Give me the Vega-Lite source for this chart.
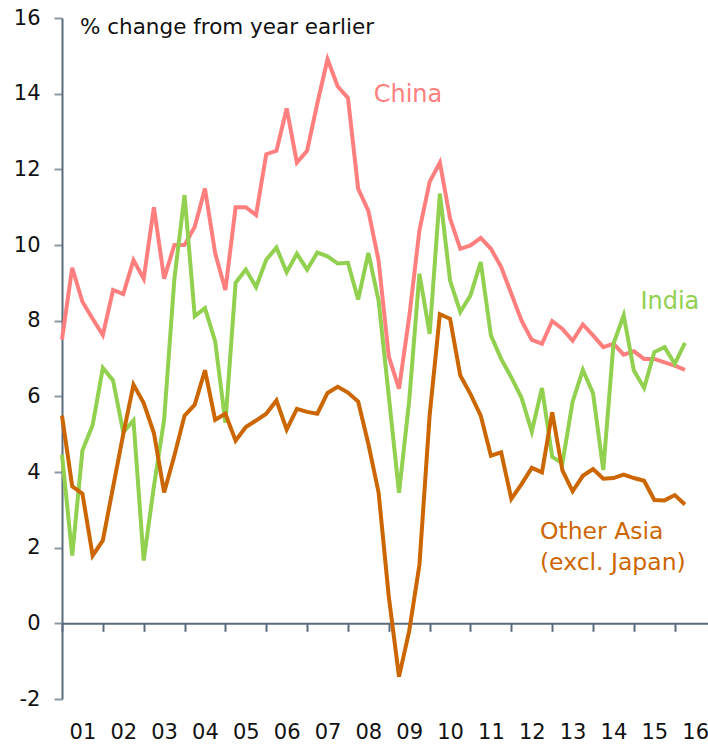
{
  "$schema": "https://vega.github.io/schema/vega-lite/v6.json",
  "autosize": {"type": "none"},
  "width": 646,
  "height": 681,
  "padding": {"left": 62, "top": 18, "right": 0, "bottom": 46},
  "background": "white",
  "config": {"view": {"stroke": null}, "font": "DejaVu Sans", "text": {"font": "DejaVu Sans"}},
  "datasets": {
    "growth": [
      {"t": 2001.0, "China": 7.5, "India": 4.46, "Other Asia": 5.49},
      {"t": 2001.25, "China": 9.4, "India": 1.79, "Other Asia": 3.62},
      {"t": 2001.5, "China": 8.5, "India": 4.57, "Other Asia": 3.43},
      {"t": 2001.75, "China": 8.05, "India": 5.24, "Other Asia": 1.79},
      {"t": 2002.0, "China": 7.62, "India": 6.75, "Other Asia": 2.19},
      {"t": 2002.25, "China": 8.81, "India": 6.42, "Other Asia": 3.6},
      {"t": 2002.5, "China": 8.7, "India": 5.05, "Other Asia": 5.0},
      {"t": 2002.75, "China": 9.6, "India": 5.36, "Other Asia": 6.31},
      {"t": 2003.0, "China": 9.11, "India": 1.66, "Other Asia": 5.82},
      {"t": 2003.25, "China": 11.0, "India": 3.62, "Other Asia": 5.03},
      {"t": 2003.5, "China": 9.11, "India": 5.38, "Other Asia": 3.46},
      {"t": 2003.75, "China": 10.0, "India": 9.09, "Other Asia": 4.43},
      {"t": 2004.0, "China": 10.0, "India": 11.32, "Other Asia": 5.49},
      {"t": 2004.25, "China": 10.48, "India": 8.12, "Other Asia": 5.78},
      {"t": 2004.5, "China": 11.49, "India": 8.33, "Other Asia": 6.69},
      {"t": 2004.75, "China": 9.78, "India": 7.45, "Other Asia": 5.38},
      {"t": 2005.0, "China": 8.81, "India": 5.3, "Other Asia": 5.54},
      {"t": 2005.25, "China": 11.0, "India": 9.0, "Other Asia": 4.83},
      {"t": 2005.5, "China": 11.0, "India": 9.35, "Other Asia": 5.19},
      {"t": 2005.75, "China": 10.79, "India": 8.89, "Other Asia": 5.36},
      {"t": 2006.0, "China": 12.4, "India": 9.61, "Other Asia": 5.54},
      {"t": 2006.25, "China": 12.49, "India": 9.93, "Other Asia": 5.89},
      {"t": 2006.5, "China": 13.61, "India": 9.28, "Other Asia": 5.12},
      {"t": 2006.75, "China": 12.18, "India": 9.77, "Other Asia": 5.67},
      {"t": 2007.0, "China": 12.49, "India": 9.35, "Other Asia": 5.59},
      {"t": 2007.25, "China": 13.74, "India": 9.8, "Other Asia": 5.54},
      {"t": 2007.5, "China": 14.91, "India": 9.7, "Other Asia": 6.09},
      {"t": 2007.75, "China": 14.19, "India": 9.51, "Other Asia": 6.25},
      {"t": 2008.0, "China": 13.89, "India": 9.53, "Other Asia": 6.1},
      {"t": 2008.25, "China": 11.49, "India": 8.56, "Other Asia": 5.86},
      {"t": 2008.5, "China": 10.9, "India": 9.79, "Other Asia": 4.74},
      {"t": 2008.75, "China": 9.59, "India": 8.53, "Other Asia": 3.46},
      {"t": 2009.0, "China": 7.05, "India": 6.0, "Other Asia": 0.7},
      {"t": 2009.25, "China": 6.2, "India": 3.45, "Other Asia": -1.41},
      {"t": 2009.5, "China": 8.1, "India": 5.89, "Other Asia": -0.2},
      {"t": 2009.75, "China": 10.39, "India": 9.24, "Other Asia": 1.55},
      {"t": 2010.0, "China": 11.67, "India": 7.65, "Other Asia": 5.5},
      {"t": 2010.25, "China": 12.18, "India": 11.36, "Other Asia": 8.17},
      {"t": 2010.5, "China": 10.7, "India": 9.06, "Other Asia": 8.05},
      {"t": 2010.75, "China": 9.9, "India": 8.23, "Other Asia": 6.55},
      {"t": 2011.0, "China": 9.99, "India": 8.67, "Other Asia": 6.06},
      {"t": 2011.25, "China": 10.19, "India": 9.55, "Other Asia": 5.49},
      {"t": 2011.5, "China": 9.9, "India": 7.61, "Other Asia": 4.43},
      {"t": 2011.75, "China": 9.42, "India": 6.99, "Other Asia": 4.52},
      {"t": 2012.0, "China": 8.71, "India": 6.5, "Other Asia": 3.29},
      {"t": 2012.25, "China": 8.0, "India": 5.96, "Other Asia": 3.68},
      {"t": 2012.5, "China": 7.49, "India": 5.07, "Other Asia": 4.11},
      {"t": 2012.75, "China": 7.39, "India": 6.22, "Other Asia": 3.99},
      {"t": 2013.0, "China": 7.99, "India": 4.4, "Other Asia": 5.58},
      {"t": 2013.25, "China": 7.78, "India": 4.23, "Other Asia": 4.04},
      {"t": 2013.5, "China": 7.47, "India": 5.86, "Other Asia": 3.49},
      {"t": 2013.75, "China": 7.9, "India": 6.7, "Other Asia": 3.9},
      {"t": 2014.0, "China": 7.61, "India": 6.08, "Other Asia": 4.08},
      {"t": 2014.25, "China": 7.3, "India": 4.05, "Other Asia": 3.82},
      {"t": 2014.5, "China": 7.39, "India": 7.39, "Other Asia": 3.84},
      {"t": 2014.75, "China": 7.1, "India": 8.14, "Other Asia": 3.93},
      {"t": 2015.0, "China": 7.19, "India": 6.68, "Other Asia": 3.84},
      {"t": 2015.25, "China": 6.99, "India": 6.22, "Other Asia": 3.77},
      {"t": 2015.5, "China": 6.99, "India": 7.17, "Other Asia": 3.26},
      {"t": 2015.75, "China": 6.9, "India": 7.3, "Other Asia": 3.25},
      {"t": 2016.0, "China": 6.81, "India": 6.86, "Other Asia": 3.39},
      {"t": 2016.25, "China": 6.7, "India": 7.41, "Other Asia": 3.14}
    ]
  },
  "layer": [
    {
      "data": {"name": "growth"},
      "transform": [{"fold": ["China", "India", "Other Asia"], "as": ["series", "value"]}],
      "mark": {"type": "line", "strokeWidth": 4},
      "encoding": {
        "x": {
          "field": "t",
          "type": "quantitative",
          "scale": {"domain": [2001, 2016.814], "nice": false, "zero": false},
          "axis": {
            "orient": "bottom",
            "offset": -75.7,
            "values": [2001, 2002, 2003, 2004, 2005, 2006, 2007, 2008, 2009, 2010, 2011, 2012, 2013, 2014, 2015, 2016],
            "labelExpr": "substring(toString(datum.value), 2, 4)",
            "labelOffset": 20.4,
            "labelPadding": 107,
            "labelBaseline": "alphabetic",
            "labelFlush": false,
            "labelOverlap": false,
            "labelBound": false,
            "labelFontSize": 21,
            "labelColor": "#111111",
            "labelFont": "DejaVu Sans",
            "tickSize": 8,
            "tickWidth": 2,
            "tickColor": "#5A6B7C",
            "domainColor": "#5A6B7C",
            "domainWidth": 2,
            "grid": false,
            "title": null
          }
        },
        "y": {
          "field": "value",
          "type": "quantitative",
          "scale": {"domain": [-2, 16], "nice": false, "zero": false},
          "axis": {
            "values": [-2, 0, 2, 4, 6, 8, 10, 12, 14, 16],
            "labelExpr": "toString(datum.value)",
            "labelPadding": 14,
            "labelFontSize": 21,
            "labelColor": "#111111",
            "labelFont": "DejaVu Sans",
            "labelFlush": false,
            "labelOverlap": false,
            "tickSize": 8,
            "tickWidth": 2,
            "tickColor": "#8A99A8",
            "domainColor": "#5A6B7C",
            "domainWidth": 2,
            "grid": false,
            "title": null
          }
        },
        "color": {
          "field": "series",
          "type": "nominal",
          "scale": {"domain": ["China", "India", "Other Asia"], "range": ["#FF7F7F", "#92D050", "#CC6600"]},
          "legend": null
        }
      }
    },
    {
      "data": {"values": [{}]},
      "mark": {"type": "text", "text": "% change from year earlier", "align": "left", "baseline": "middle", "fontSize": 21.5, "color": "#111111"},
      "encoding": {"x": {"datum": 2001.44, "type": "quantitative"}, "y": {"datum": 15.74, "type": "quantitative"}}
    },
    {
      "data": {"values": [{}]},
      "mark": {"type": "text", "text": "China", "align": "center", "baseline": "middle", "fontSize": 24, "color": "#FF7F7F"},
      "encoding": {"x": {"datum": 2009.47, "type": "quantitative"}, "y": {"datum": 13.97, "type": "quantitative"}}
    },
    {
      "data": {"values": [{}]},
      "mark": {"type": "text", "text": "India", "align": "center", "baseline": "middle", "fontSize": 24, "color": "#92D050"},
      "encoding": {"x": {"datum": 2015.88, "type": "quantitative"}, "y": {"datum": 8.49, "type": "quantitative"}}
    },
    {
      "data": {"values": [{}]},
      "mark": {"type": "text", "text": "Other Asia", "align": "left", "baseline": "middle", "fontSize": 23.5, "color": "#CC6600"},
      "encoding": {"x": {"datum": 2012.7, "type": "quantitative"}, "y": {"datum": 2.42, "type": "quantitative"}}
    },
    {
      "data": {"values": [{}]},
      "mark": {"type": "text", "text": "(excl. Japan)", "align": "left", "baseline": "middle", "fontSize": 23.5, "color": "#CC6600"},
      "encoding": {"x": {"datum": 2012.7, "type": "quantitative"}, "y": {"datum": 1.59, "type": "quantitative"}}
    }
  ]
}
